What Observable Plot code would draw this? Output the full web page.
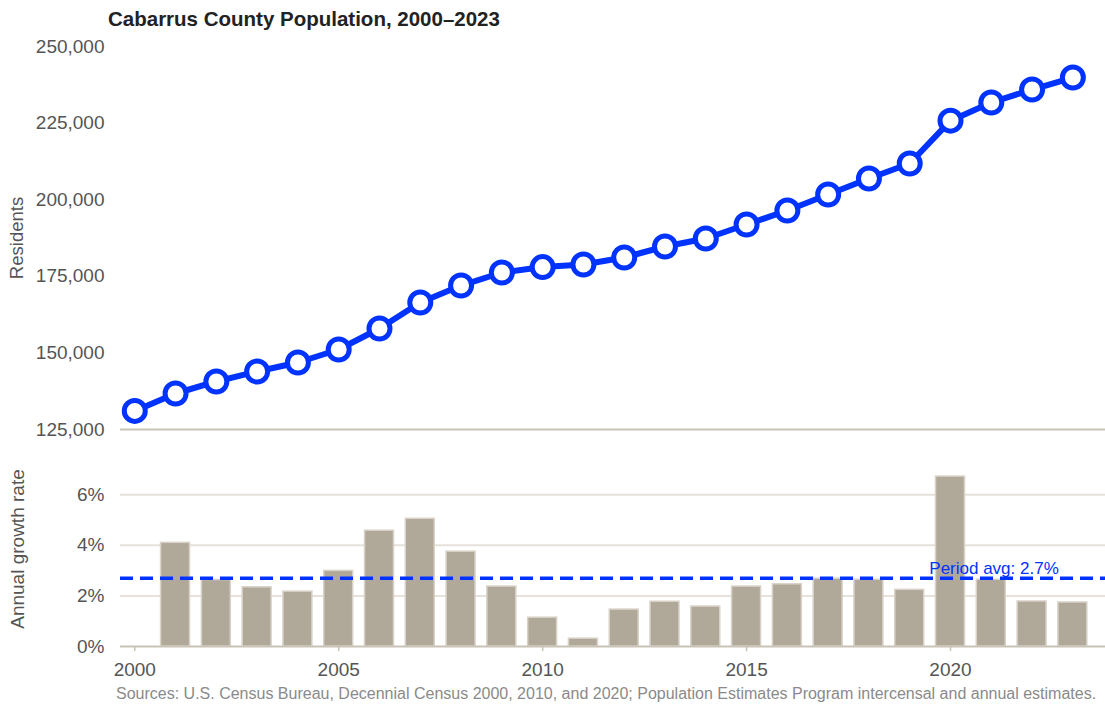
<!DOCTYPE html>
<html><head><meta charset="utf-8">
<script src="https://cdn.jsdelivr.net/npm/d3@7"></script>
<script src="https://cdn.jsdelivr.net/npm/@observablehq/plot@0.6"></script>
<style>
body{margin:0;background:#fff;font-family:"Liberation Sans",Arial,sans-serif;width:1105px;height:707px;position:relative;overflow:hidden}
#title{position:absolute;left:108px;top:9px;font-size:20.5px;line-height:1;font-weight:bold;color:#222;white-space:nowrap}
#top{position:absolute;left:0;top:30px}
#bottom{position:absolute;left:0;top:440px}
#caption{position:absolute;left:116px;top:686px;font-size:16px;line-height:1;color:#8a8a8a;white-space:nowrap}
svg{overflow:visible}
</style></head><body>
<div id="title">Cabarrus County Population, 2000–2023</div>
<div id="top"></div>
<div id="bottom"></div>
<div id="caption">Sources: U.S. Census Bureau, Decennial Census 2000, 2010, and 2020; Population Estimates Program intercensal and annual estimates.</div>
<script>
const years = [2000,2001,2002,2003,2004,2005,2006,2007,2008,2009,2010,2011,2012,2013,2014,2015,2016,2017,2018,2019,2020,2021,2022,2023];
const population = [131063,136750,140670,143930,146870,151110,157960,166450,171990,176240,178011,178850,181130,184720,187340,191900,196470,201700,206920,211810,225804,231720,235960,239880];
const growthPct = [null,4.10,2.63,2.34,2.17,2.99,4.58,5.05,3.75,2.37,1.14,0.31,1.46,1.77,1.58,2.37,2.46,2.68,2.64,2.24,6.72,2.64,1.78,1.74];
const periodAvgPct = 2.7;
const popTicks = [125000,150000,175000,200000,225000,250000];
const growthTicks = [0,2,4,6];
const yearTicks = [2000,2005,2010,2015,2020];

const blue = "#0033ff";
const font = "Liberation Sans, Arial, sans-serif";
const popData = years.map((y,i)=>({year:y, pop:population[i]}));
const growthData = years.map((y,i)=>({year:y, g:growthPct[i]})).filter(d=>d.g!=null);
const xDomain = [1999.65, 2023.8];

const topChart = Plot.plot({
  width:1105, height:410, marginTop:16, marginBottom:11, marginLeft:120, marginRight:0,
  style:{fontFamily:font, fontSize:"19px", color:"#555", background:"transparent", overflow:"visible"},
  x:{domain:xDomain, axis:null},
  y:{domain:[125000,250000], ticks:popTicks, tickFormat:d3.format(","), tickSize:0, tickPadding:16, label:null},
  marks:[
    Plot.ruleY([125000], {stroke:"#c9c2b6", strokeWidth:2}),
    Plot.line(popData, {x:"year", y:"pop", stroke:blue, strokeWidth:6}),
    Plot.dot(popData, {x:"year", y:"pop", r:10.5, fill:"white", stroke:blue, strokeWidth:5}),
    Plot.text(["Residents"], {text:d=>d, frameAnchor:"left", textAnchor:"middle", dx:-103, rotate:-90, fill:"#555", fontSize:18.5})
  ]
});
document.getElementById("top").appendChild(topChart);

const bottomChart = Plot.plot({
  width:1105, height:246, marginTop:29, marginBottom:40, marginLeft:120, marginRight:0,
  style:{fontFamily:font, fontSize:"19px", color:"#555", background:"transparent", overflow:"visible"},
  x:{domain:xDomain, ticks:yearTicks, tickFormat:d=>String(d), tickSize:0, tickPadding:16, label:null},
  y:{domain:[0,7], ticks:growthTicks, tickFormat:d=>d+"%", tickSize:0, tickPadding:16, label:null},
  marks:[
    Plot.ruleY(growthTicks.filter(t=>t>0), {stroke:"#e6e1da", strokeWidth:2}),
    Plot.rectY(growthData, {x1:d=>d.year-0.355, x2:d=>d.year+0.355, y:"g", fill:"#b0a899", stroke:"#d8d2c8", strokeWidth:1.5}),
    Plot.ruleY([0], {stroke:"#c9c2b6", strokeWidth:2}),
    Plot.ruleX(yearTicks, {y1:0, y2:-0.2, stroke:"#c9c2b6", strokeWidth:1.5}),
    Plot.ruleY([periodAvgPct], {stroke:blue, strokeWidth:3.5, strokeDasharray:"13,7"}),
    Plot.text([`Period avg: ${periodAvgPct}%`], {text:d=>d, x:2019.48, y:periodAvgPct, dy:-10, textAnchor:"start", fill:blue, fontSize:17}),
    Plot.text(["Annual growth rate"], {text:d=>d, frameAnchor:"left", textAnchor:"middle", dx:-103, dy:-9, rotate:-90, fill:"#555", fontSize:19})
  ]
});
document.getElementById("bottom").appendChild(bottomChart);
</script>
</body></html>
